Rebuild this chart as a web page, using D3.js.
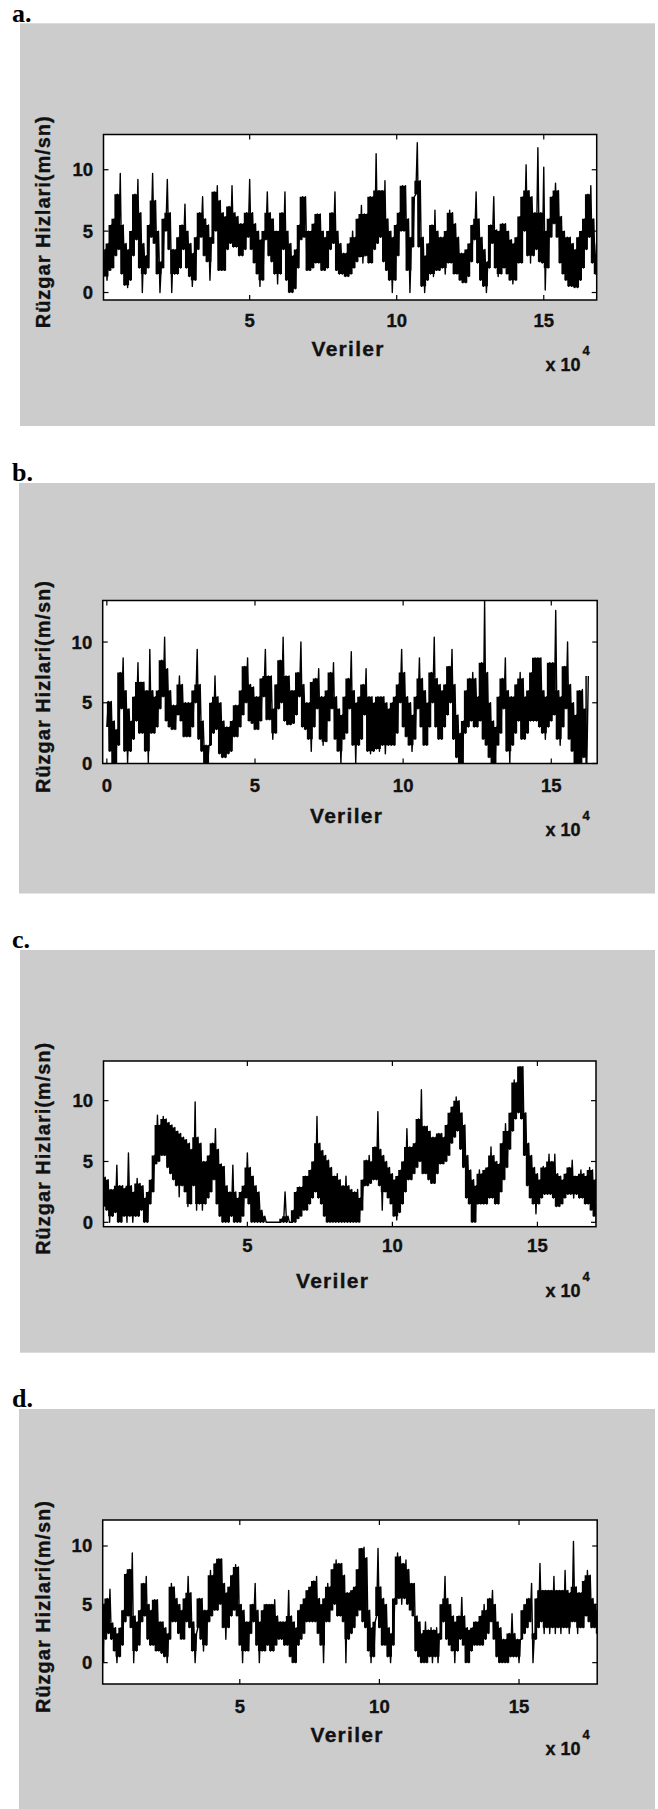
<!DOCTYPE html>
<html>
<head>
<meta charset="utf-8">
<script src="https://cdn.jsdelivr.net/npm/d3@7"></script>
<style>
  html, body { margin: 0; padding: 0; background: #fff; }
  svg { display: block; }
  .tick-label, .axis-title { font-family: "Liberation Sans", Arial, sans-serif; font-weight: bold; fill: #111; stroke: #111; stroke-width: 0.35px; }
  .panel-tag { font-family: "Liberation Serif", "Times New Roman", serif; font-weight: bold; fill: #000; }
</style>
</head>
<body>
<div id="chart"></div>
<script>
// wind speed envelopes, one value per 1000 samples (x in 1e4 units)
// hi = top of the black band, lo = bottom of it
var aHigh = [3.5,4.0,5.5,6.0,8.0,9.7,5.5,4.0,3.5,5.0, 8.0,9.2,6.5,4.0,3.0,5.5,9.7,7.5,5.0,2.5,
  6.0,9.2,6.5,3.5,3.5,4.5,5.5,7.2,5.0,4.0, 3.2,4.5,6.5,7.8,6.0,5.5,4.5,8.2,8.7,7.5,
  6.5,6.2,7.0,8.7,6.5,6.2,5.6,5.6,6.5,9.2, 6.5,5.6,5.0,4.3,5.0,8.2,6.5,6.0,5.0,5.0,
  6.5,8.2,5.0,4.0,3.0,3.5,5.5,7.8,7.8,5.0, 5.0,5.6,6.4,6.4,5.0,4.5,5.0,6.5,8.2,5.0,
  4.0,3.2,3.2,4.0,5.0,4.5,6.0,7.1,6.4,6.4, 7.8,7.8,11.3,8.3,8.3,9.1,6.0,5.0,4.5,5.5,
  6.5,8.7,8.7,6.0,4.5,7.8,12.2,9.1,4.5,3.0, 4.0,5.5,6.7,5.0,4.5,4.5,5.0,6.7,6.5,5.6,
  4.5,3.2,3.2,3.5,4.0,5.5,8.2,6.0,4.5,3.5, 2.5,5.5,7.8,5.1,5.0,5.6,5.6,5.0,4.3,4.0,
  4.5,6.2,7.8,10.4,8.3,7.8,6.5,11.8,6.5,10.2, 5.0,6.0,7.8,8.9,8.3,6.2,5.0,4.5,4.5,4.0,
  3.5,4.5,5.0,6.0,8.0,8.7,6.0,4.0];
var aLow = [1.3,1.0,1.8,2.0,3.0,3.5,1.5,0.6,0.4,1.0, 3.0,4.3,2.0,0.0,1.5,2.0,4.5,4.0,1.5,0.0,
  2.0,5.0,3.5,0.0,1.5,1.5,2.0,3.5,2.0,1.3, 0.5,1.0,3.5,4.5,3.0,2.5,1.0,4.0,5.0,1.8,
  1.8,1.8,3.5,4.0,3.7,3.7,3.0,3.0,3.5,4.5, 3.5,2.4,1.5,0.5,1.0,4.3,3.0,2.5,1.5,0.7,
  1.5,3.5,1.0,0.0,0.0,0.3,2.0,4.3,4.5,1.8, 1.8,2.0,2.4,2.4,1.8,1.8,2.0,3.5,4.0,1.8,
  1.5,1.5,1.3,1.3,1.5,2.0,2.5,2.9,2.4,3.0, 2.4,2.4,3.5,4.0,4.5,2.5,1.8,1.0,0.0,1.0,
  3.0,5.0,5.0,1.8,0.0,3.7,8.0,3.7,0.5,0.0, 1.0,1.5,1.3,1.8,1.8,2.0,1.5,2.4,2.4,1.5,
  1.5,1.0,0.8,0.8,1.3,2.5,4.3,2.4,1.0,0.5, 0.0,2.0,4.0,2.0,1.3,1.5,2.0,1.5,1.0,0.7,
  1.0,2.4,2.4,5.0,3.0,2.4,3.0,3.5,2.5,2.4, 0.2,2.0,4.5,5.6,4.5,2.4,1.5,1.0,0.5,0.5,
  0.4,0.4,1.0,2.0,3.5,4.5,2.4,1.5];

var bHigh = [5.1,5.1,3.5,2.8,7.5,8.7,6.0,4.5,3.5,5.5, 8.3,6.7,6.7,6.0,9.4,6.0,5.5,6.0,8.5,10.4,
  7.8,6.0,4.8,4.8,7.2,6.5,5.0,5.0,5.0,6.0, 9.4,6.5,3.5,1.5,1.5,5.0,7.2,5.5,5.0,3.5,
  3.0,3.0,3.5,4.8,4.8,6.0,8.0,8.7,6.5,6.3, 5.5,5.5,7.0,9.4,7.2,7.2,4.5,6.5,8.5,10.4,
  7.2,7.2,6.0,6.0,7.5,10.0,6.5,5.0,5.0,6.7, 7.0,7.8,5.5,5.5,6.0,7.5,8.3,5.5,4.5,4.0,
  5.5,7.0,9.2,6.0,5.0,5.5,6.5,7.8,5.5,5.5, 5.0,5.5,5.5,5.5,5.0,4.5,5.0,5.5,6.5,9.4,
  7.5,5.5,5.0,4.0,5.5,8.7,7.0,6.0,5.0,7.5, 10.4,7.0,6.5,6.0,6.5,8.0,9.4,6.5,4.0,2.5,
  3.5,6.0,7.0,7.5,7.0,5.5,8.3,13.4,7.5,5.0, 3.5,3.0,5.5,7.0,8.7,6.0,5.5,5.5,6.5,7.5,
  7.0,5.5,6.0,7.5,8.7,8.7,8.7,6.0,5.5,8.3, 8.3,12.6,6.0,5.5,8.0,10.0,6.5,5.0,4.0,6.0,
  6.1,4.5,7.2];
var bLow = [3.0,1.0,0.0,0.0,1.5,4.5,1.0,0.0,1.0,2.0, 3.5,2.5,2.5,1.0,0.0,2.5,2.5,3.0,4.5,5.5,
  3.5,3.0,2.8,2.8,4.0,3.5,2.2,2.2,2.2,3.0, 5.0,2.0,1.0,0.0,0.0,1.5,2.5,2.8,0.8,0.5,
  0.5,0.8,1.0,2.2,2.2,3.0,4.0,5.0,3.5,3.3, 2.8,2.8,3.5,5.5,3.6,3.6,2.0,2.5,4.5,5.0,
  3.5,3.2,3.2,3.3,4.0,5.5,3.0,2.8,2.0,1.0, 3.0,4.5,2.0,1.5,1.8,3.5,4.5,2.0,1.0,0.0,
  2.0,2.5,4.5,1.5,0.0,1.5,2.0,4.0,1.0,0.8, 1.0,1.2,1.0,1.5,0.8,1.5,1.5,1.5,2.5,5.0,
  3.0,2.2,1.5,1.0,2.0,4.5,3.0,1.5,1.5,3.0, 5.0,3.0,2.0,2.0,3.0,4.0,5.0,2.0,0.5,0.0,
  0.0,2.5,3.0,3.5,3.0,3.0,3.5,2.0,1.5,0.5, 0.0,0.0,1.5,2.5,4.5,1.0,0.0,1.5,2.5,3.5,
  2.0,2.0,2.5,3.5,3.5,3.5,3.0,2.5,2.0,3.0, 3.5,4.0,2.0,1.5,3.0,4.5,2.0,1.0,0.0,0.0,
  0.0,0.5,0.0];

var cHigh = [3.7,3.5,2.7,2.7,4.7,3.0,3.0,2.8,5.7,3.0, 2.5,3.6,3.2,3.0,2.0,2.5,3.5,5.5,8.8,8.0,
  8.7,8.5,8.2,8.0,7.8,7.5,7.3,7.0,6.8,6.5, 6.0,9.9,7.0,6.5,5.0,5.0,5.5,6.5,7.7,6.0,
  4.8,4.6,3.0,2.5,4.7,2.5,2.0,2.5,3.0,5.7, 4.5,3.8,3.0,2.5,1.0,0.5,0.0,0.0,0.0,0.0,
  0.0,0.3,2.5,0.5,0.0,1.0,2.5,2.9,2.9,3.8, 3.8,4.3,5.0,8.7,6.5,5.9,5.5,5.1,4.5,3.8,
  4.0,3.5,3.0,3.8,3.0,2.7,2.5,2.7,2.0,3.5, 5.1,5.5,5.0,6.2,9.1,6.0,5.5,5.0,4.5,4.0,
  3.5,3.8,4.3,5.0,7.7,6.2,6.2,6.5,8.5,10.9, 7.9,7.9,7.5,7.0,7.0,7.3,7.3,7.0,8.0,9.0,
  9.5,10.3,10.0,9.0,8.0,5.5,4.3,3.5,3.0,4.3, 4.0,4.3,4.5,6.2,5.5,5.0,4.8,6.5,8.1,7.5,
  9.0,11.7,11.5,12.8,12.8,9.0,6.5,5.5,4.5,4.0, 3.5,4.6,4.5,5.6,5.0,5.6,4.0,3.8,3.5,4.0,
  4.5,5.1,3.8,3.8,4.3,4.0,3.8,4.5,4.3,3.5, 1.5];
var cLow = [1.3,1.0,0.0,0.5,0.8,0.0,0.0,0.5,0.0,0.5, 0.0,0.5,0.5,1.0,0.0,0.0,1.5,2.5,4.8,5.0,
  5.5,5.5,4.5,4.0,3.5,3.0,2.1,3.0,2.5,1.3, 1.5,3.0,1.0,1.5,1.0,1.5,2.0,2.5,3.5,1.5,
  0.5,0.0,0.0,0.0,0.5,0.0,0.0,0.0,0.5,2.0, 1.5,0.0,0.0,0.0,0.0,0.0,0.0,0.0,0.0,0.0,
  0.0,0.0,0.0,0.0,0.0,0.0,0.0,0.3,0.5,1.0, 1.0,1.5,2.0,2.5,2.0,1.5,0.5,0.0,0.0,0.0,
  0.0,0.0,0.0,0.0,0.0,0.0,0.0,0.0,0.0,1.0, 3.0,3.0,3.2,3.5,3.5,3.0,1.0,2.5,2.0,1.5,
  0.5,0.2,0.8,1.5,2.5,3.5,3.5,4.0,4.5,5.0, 4.0,4.0,3.5,3.2,3.2,4.0,4.8,4.8,5.0,5.5,
  6.5,7.0,7.5,6.0,4.5,2.0,1.5,0.0,0.0,1.5, 1.5,1.5,1.5,2.0,2.0,1.5,1.5,2.5,3.5,4.5,
  6.0,7.5,8.5,9.0,8.5,5.5,3.0,2.0,1.5,0.7, 1.5,2.0,2.3,2.3,2.3,2.0,1.3,1.3,1.5,2.0,
  2.3,2.3,2.0,2.3,2.0,2.0,1.5,1.5,1.0,0.5, 0.0];

var dHigh = [5.0,5.5,6.3,3.4,3.0,2.5,3.0,4.5,7.6,8.0, 9.4,4.0,3.5,4.5,6.8,7.4,5.0,4.5,5.4,5.4,
  3.5,3.5,3.0,2.5,6.8,6.5,5.5,5.0,4.5,5.5, 7.4,6.0,3.5,2.5,5.5,5.5,4.5,4.5,7.9,7.5,
  8.5,8.9,8.9,6.8,6.0,6.5,7.5,8.4,8.2,5.0, 4.5,3.5,3.5,5.0,6.8,4.5,3.5,4.5,5.0,5.0,
  5.0,5.4,4.0,3.5,3.5,3.5,6.2,4.0,3.5,3.0, 4.5,5.0,5.5,6.2,6.5,7.0,7.4,5.5,5.0,5.5,
  6.8,6.5,8.0,8.8,8.5,8.5,7.5,6.0,6.0,6.2, 6.5,8.0,9.8,9.9,9.0,4.5,3.0,3.5,9.8,6.5,
  5.5,5.0,3.0,2.5,5.5,9.4,9.1,8.5,8.8,8.0, 6.8,6.8,4.0,3.5,2.5,3.5,2.8,3.0,2.8,3.0,
  2.5,5.0,7.4,5.5,5.0,4.0,3.5,4.0,5.6,4.0, 3.0,2.8,3.0,3.5,3.5,4.0,5.0,4.5,5.5,6.2,
  5.0,3.5,3.0,2.0,2.0,2.5,4.2,2.5,2.0,2.0, 4.5,5.0,5.5,6.8,2.5,5.5,8.5,6.2,6.2,6.2,
  6.2,7.4,6.2,6.2,6.2,7.9,6.2,6.0,10.4,6.5, 6.0,6.0,7.0,7.9,7.5,5.5,5.0,4.5];
var dLow = [0.0,2.0,2.5,2.0,1.0,0.0,0.5,1.5,3.5,4.0, 3.0,0.0,1.0,1.5,3.5,4.0,2.0,1.5,1.5,1.0,
  1.0,0.8,0.5,0.0,2.0,3.5,3.5,2.5,2.0,2.0, 3.5,3.0,1.0,0.0,3.0,2.0,1.0,1.5,3.5,4.0,
  4.5,4.5,5.0,3.0,2.0,3.0,4.0,4.5,4.0,1.5, 0.0,1.0,1.0,2.5,3.5,1.5,0.0,1.0,1.0,1.5,
  1.0,1.0,1.5,2.0,2.0,1.5,1.5,0.5,0.0,0.0, 1.5,2.0,2.5,3.5,3.5,3.5,3.5,2.5,1.5,0.0,
  3.5,3.5,4.5,5.0,4.0,4.0,3.5,0.0,2.0,2.5, 3.0,4.0,4.5,3.5,3.0,1.0,0.0,0.5,4.0,3.0,
  1.5,1.5,0.5,0.0,1.5,5.0,5.5,5.0,5.5,5.0, 4.5,4.0,1.0,0.5,0.0,0.0,0.0,0.5,0.0,0.5,
  0.0,2.0,3.5,2.0,1.5,1.0,0.0,1.0,2.0,1.5, 0.0,0.0,1.0,1.5,1.5,1.5,1.5,2.0,2.5,3.5,
  2.0,0.5,0.0,0.0,0.0,0.0,0.5,0.5,0.5,0.0, 2.0,2.5,3.0,3.5,0.0,2.0,3.0,3.5,2.5,3.0,
  2.5,3.0,2.5,3.0,2.5,3.0,3.0,2.5,3.5,3.5, 2.5,3.0,3.0,4.0,3.5,3.0,3.0,2.5];

// first sample position of each series (x 1e4) and spacing
var seriesStart = { a: 0.05, b: 0.0, c: 0.05, d: 0.1 };
var seriesStep = 0.1;

var yTicks = [0, 5, 10];
var xTicksA = [5, 10, 15];
var xTicksB = [0, 5, 10, 15];
var xTicksC = [5, 10, 15];
var xTicksD = [5, 10, 15];

var yTitle = "Rüzgar Hizlari(m/sn)";
var xTitle = "Veriler";

(function() {
    'use strict';

    var W = 658, H = 1809;

    // layout of each panel, measured on the reference
    var panels = [
        { tag: "a.", tagY: 22, hi: aHigh, lo: aLow, x0: seriesStart.a, xTicks: xTicksA,
          xDom: [0.03, 16.8], yDom: [-0.61, 12.87],
          gray: [20, 23.3, 655, 426], frame: [103.5, 134.5, 596.7, 300],
          tickBase: 327, titleX: 347.5, titleBase: 356, expBase: 371 },
        { tag: "b.", tagY: 481, hi: bHigh, lo: bLow, x0: seriesStart.b, xTicks: xTicksB,
          xDom: [-0.14, 16.55], yDom: [0, 13.42],
          gray: [19, 483, 655, 893.5], frame: [102.7, 600.5, 597.2, 763.5],
          tickBase: 792, titleX: 346, titleBase: 823, expBase: 836 },
        { tag: "c.", tagY: 948, hi: cHigh, lo: cLow, x0: seriesStart.c, xTicks: xTicksC,
          xDom: [0.04, 17.02], yDom: [-0.36, 13.26],
          gray: [20, 950, 655, 1352.7], frame: [103.5, 1061, 596, 1226.7],
          tickBase: 1252, titleX: 332, titleBase: 1288.3, expBase: 1296.7 },
        { tag: "d.", tagY: 1407, hi: dHigh, lo: dLow, x0: seriesStart.d, xTicks: xTicksD,
          xDom: [0.09, 17.8], yDom: [-1.83, 12.23],
          gray: [19, 1409, 655, 1809], frame: [102.7, 1520, 597.2, 1684],
          tickBase: 1713, titleX: 346.5, titleBase: 1741.7, expBase: 1755 }
    ];

    var svg = d3.select("#chart")
        .append("svg")
        .attr("width", W)
        .attr("height", H);

    panels.forEach(function(p, i) {
        var g = svg.append("g");
        var f = p.frame;

        g.append("text")
            .attr("class", "panel-tag")
            .attr("x", 12)
            .attr("y", p.tagY)
            .style("font-size", "26px")
            .text(p.tag);

        g.append("rect")
            .attr("x", p.gray[0]).attr("y", p.gray[1])
            .attr("width", p.gray[2] - p.gray[0])
            .attr("height", p.gray[3] - p.gray[1])
            .attr("fill", "#cccccc");

        g.append("rect")
            .attr("x", f[0]).attr("y", f[1])
            .attr("width", f[2] - f[0]).attr("height", f[3] - f[1])
            .attr("fill", "#ffffff");

        var x = d3.scaleLinear().domain(p.xDom).range([f[0], f[2]]);
        var y = d3.scaleLinear().domain(p.yDom).range([f[3], f[1]]);
        var n = p.hi.length;

        // solid core of the band: lone spikes are left to the line below
        var core = p.hi.map(function(h, k) {
            var hPrev = p.hi[Math.max(0, k - 1)], hNext = p.hi[Math.min(n - 1, k + 1)];
            var lPrev = p.lo[Math.max(0, k - 1)], lNext = p.lo[Math.min(n - 1, k + 1)];
            return {
                x: p.x0 + k * seriesStep,
                top: Math.min(h, Math.max(hPrev, hNext)),
                bot: Math.max(p.lo[k], Math.min(lPrev, lNext))
            };
        });

        // zigzag between the bottom and the top of the band in each bin
        var pts = [];
        p.hi.forEach(function(h, k) {
            var xv = p.x0 + k * seriesStep;
            pts.push([xv, p.lo[k]]);
            pts.push([xv + seriesStep / 2, h]);
        });

        var clipId = "clip" + i;
        g.append("clipPath").attr("id", clipId)
            .append("rect")
            .attr("x", f[0]).attr("y", f[1])
            .attr("width", f[2] - f[0]).attr("height", f[3] - f[1]);

        var area = d3.area()
            .curve(d3.curveStep)
            .x(function(d) { return x(d.x); })
            .y0(function(d) { return y(d.bot); })
            .y1(function(d) { return y(d.top); });

        var line = d3.line()
            .x(function(d) { return x(d[0]); })
            .y(function(d) { return y(d[1]); });

        var plot = g.append("g").attr("clip-path", "url(#" + clipId + ")");

        plot.append("path")
            .datum(core)
            .attr("d", area)
            .attr("fill", "#000");

        plot.append("path")
            .datum(pts)
            .attr("d", line)
            .attr("fill", "none")
            .attr("stroke", "#000")
            .attr("stroke-width", 1.4)
            .attr("stroke-linejoin", "round");

        // ticks on all four sides, pointing in
        var tl = 5;
        var ticks = g.append("g").attr("stroke", "#000").attr("stroke-width", 1.2);
        p.xTicks.forEach(function(t) {
            ticks.append("line").attr("x1", x(t)).attr("x2", x(t)).attr("y1", f[3]).attr("y2", f[3] - tl);
            ticks.append("line").attr("x1", x(t)).attr("x2", x(t)).attr("y1", f[1]).attr("y2", f[1] + tl);
        });
        yTicks.forEach(function(t) {
            ticks.append("line").attr("x1", f[0]).attr("x2", f[0] + tl).attr("y1", y(t)).attr("y2", y(t));
            ticks.append("line").attr("x1", f[2]).attr("x2", f[2] - tl).attr("y1", y(t)).attr("y2", y(t));
        });

        g.append("rect")
            .attr("x", f[0]).attr("y", f[1])
            .attr("width", f[2] - f[0]).attr("height", f[3] - f[1])
            .attr("fill", "none")
            .attr("stroke", "#000")
            .attr("stroke-width", 1.5);

        // tick labels
        g.selectAll(".xl").data(p.xTicks).enter()
            .append("text")
            .attr("class", "tick-label")
            .attr("x", function(d) { return x(d); })
            .attr("y", p.tickBase)
            .attr("text-anchor", "middle")
            .style("font-size", "18.5px")
            .text(function(d) { return d; });

        g.selectAll(".yl").data(yTicks).enter()
            .append("text")
            .attr("class", "tick-label")
            .attr("x", f[0] - 10.5)
            .attr("y", function(d) { return y(d); })
            .attr("dy", "0.35em")
            .attr("text-anchor", "end")
            .style("font-size", "18.5px")
            .text(function(d) { return d; });

        // axis titles
        g.append("text")
            .attr("class", "axis-title")
            .attr("x", p.titleX)
            .attr("y", p.titleBase)
            .attr("text-anchor", "middle")
            .style("font-size", "21px")
            .attr("textLength", 72)
            .text(xTitle);

        var cy = (f[1] + f[3]) / 2 + 5;
        g.append("text")
            .attr("class", "axis-title")
            .attr("transform", "translate(50," + cy + ") rotate(-90)")
            .attr("text-anchor", "middle")
            .style("font-size", "20px")
            .attr("textLength", 212)
            .text(yTitle);

        // x 10^4 multiplier
        var ex = g.append("text")
            .attr("class", "tick-label")
            .attr("x", 545.5)
            .attr("y", p.expBase)
            .style("font-size", "18px");
        ex.append("tspan").text("x 10");
        ex.append("tspan")
            .attr("dy", -16)
            .attr("dx", 2)
            .style("font-size", "13px")
            .text("4");
    });
})();
</script>
</body>
</html>
